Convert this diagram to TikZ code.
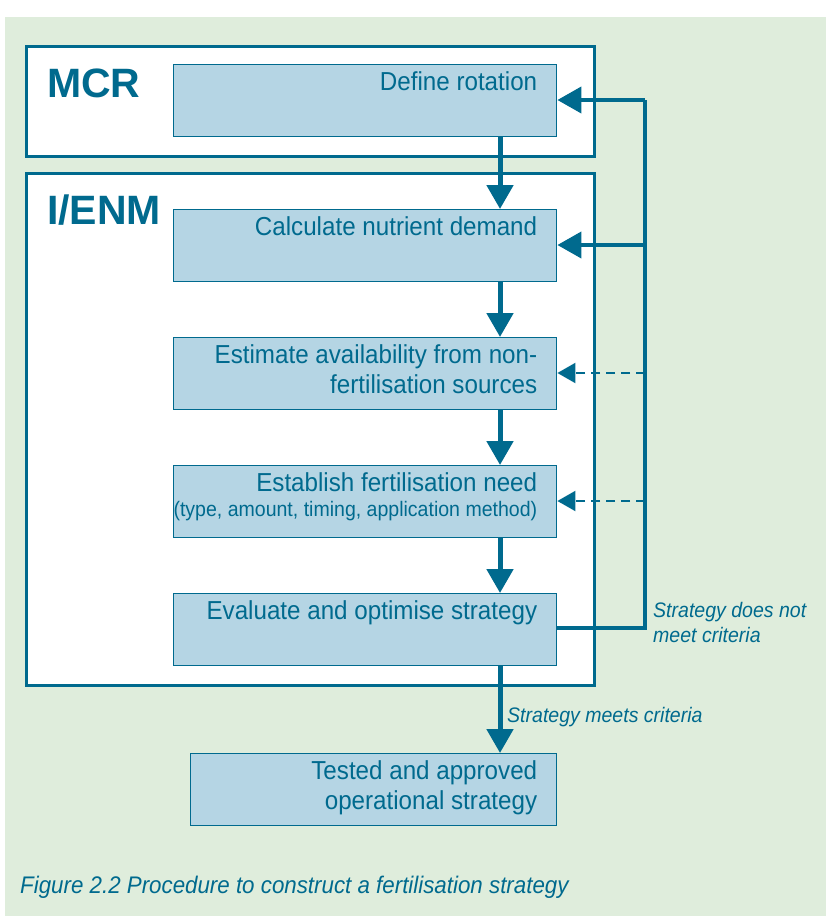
\documentclass[tikz,border=0pt]{standalone}
\usepackage{fontspec}
\setmainfont{Liberation Sans}[FakeStretch=0.93]
\newfontfamily\titlefont{Liberation Sans}[FakeStretch=1.0]
\usetikzlibrary{arrows.meta}
\definecolor{teal}{HTML}{006A8E}
\definecolor{boxfill}{HTML}{B5D5E4}
\definecolor{panel}{HTML}{DFEDDC}
\tikzset{
  frame/.style={draw=teal, line width=3pt, fill=white, anchor=north west, inner sep=0pt},
  stepbox/.style={draw=teal, line width=1.4pt, fill=boxfill, anchor=north west, inner sep=0pt, minimum width=383pt, minimum height=72pt},
  boxtext/.style={text=teal, font=\fontsize{26}{30}\selectfont, align=right, anchor=north east, inner sep=0pt},
  bigtitle/.style={text=teal, font=\titlefont\fontsize{41}{44}\selectfont\bfseries, anchor=base west, inner sep=0pt},
  flow/.style={draw=teal, line width=5pt, -{Triangle[length=24pt,width=26pt]}},
  back/.style={draw=teal, line width=4pt},
  backarrow/.style={draw=teal, line width=4pt, -{Triangle[length=24pt,width=26pt]}},
  dasharrow/.style={draw=teal, line width=2pt, dash pattern=on 9pt off 6pt, -{Triangle[length=18pt,width=20pt]}},
  note/.style={text=teal, font=\fontsize{21}{25}\selectfont\itshape, align=left, inner sep=0pt},
}
\begin{document}
\begin{tikzpicture}[x=1pt,y=-1pt]
\useasboundingbox (0,0) rectangle (826,916);
\fill[panel] (5,17) rectangle (826,916);
% frames
\node[frame, minimum width=568pt, minimum height=110pt] (mcr) at (25,45) {};
\node[frame, minimum width=568pt, minimum height=512pt] (enm) at (25,172) {};
\node[bigtitle] (mcrT) at (47,97) {MCR};
\node[bigtitle] (enmT) at (47,224) {I/ENM};
% boxes
\node[stepbox] (def) at (173,64) {};
\node[stepbox] (calc) at (173,209) {};
\node[stepbox] (est) at (173,337) {};
\node[stepbox] (estab) at (173,465) {};
\node[stepbox] (eval) at (173,593) {};
\node[stepbox, minimum width=366pt] (test) at (190,753) {};
% texts
\node[boxtext] (defT) at ([xshift=-20pt,yshift=-7pt]def.north east) {Define rotation};
\node[boxtext] (calcT) at ([xshift=-20pt,yshift=-7pt]calc.north east) {Calculate nutrient demand};
\node[boxtext] (estT) at ([xshift=-20pt,yshift=-7pt]est.north east) {Estimate availability from non-\\fertilisation sources};
\node[boxtext] (estabT) at ([xshift=-20pt,yshift=-7pt]estab.north east) {Establish fertilisation need\\[-5pt]{\fontsize{21}{24}\selectfont (type, amount, timing, application method)}};
\node[boxtext] (evalT) at ([xshift=-20pt,yshift=-7pt]eval.north east) {Evaluate and optimise strategy};
\node[boxtext] (testT) at ([xshift=-20pt,yshift=-7pt]test.north east) {Tested and approved\\operational strategy};
% main flow
\draw[flow] (def.south -| 500,0) -- (calc.north -| 500,0);
\draw[flow] (calc.south -| 500,0) -- (est.north -| 500,0);
\draw[flow] (est.south -| 500,0) -- (estab.north -| 500,0);
\draw[flow] (estab.south -| 500,0) -- (eval.north -| 500,0);
\draw[flow] (eval.south -| 500,0) -- (test.north -| 500,0);
% feedback
\coordinate (fbB) at (645,628);
\coordinate (fbT) at (645,100);
\coordinate (fbC) at (645,245);
\coordinate (fbE) at (645,373);
\coordinate (fbF) at (645,501);
\draw[back] (eval.east |- fbB) -- (fbB) -- (fbT);
\draw[backarrow] (fbT) -- (def.east |- fbT);
\draw[backarrow] (fbC) -- (calc.east |- fbC);
\draw[dasharrow] (fbE) -- (est.east |- fbE);
\draw[dasharrow] (fbF) -- (estab.east |- fbF);
% notes
\node[note, anchor=base west] (noMeet) at (653,642) {Strategy does not\\meet criteria};
\node[note, anchor=base west] (meet) at (507,722) {Strategy meets criteria};
\node[text=teal, font=\fontsize{24}{28}\selectfont\itshape, anchor=base west, inner sep=0pt] (cap) at (20,893) {Figure 2.2 Procedure to construct a fertilisation strategy};
\end{tikzpicture}
\end{document}
